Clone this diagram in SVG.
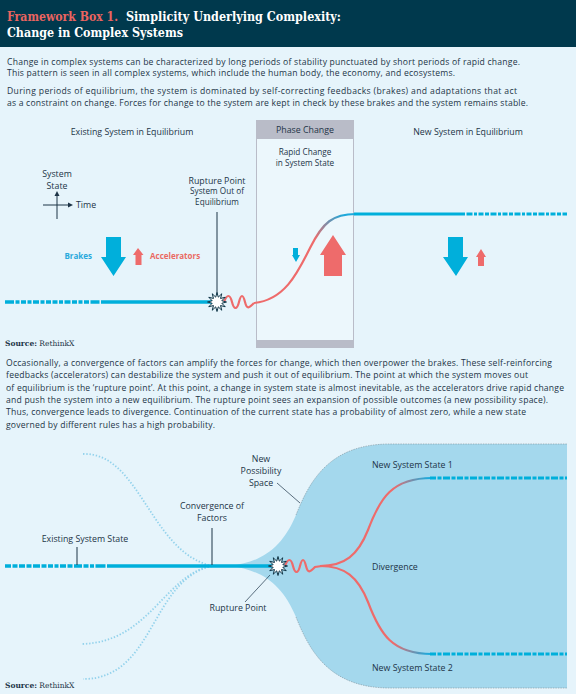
<svg xmlns="http://www.w3.org/2000/svg" width="576" height="694" viewBox="0 0 576 694">
<style>
.body{font-family:"Open Sans","Liberation Sans",sans-serif;font-size:8.6px;fill:#1d3447}
.lbl{font-family:"Open Sans","Liberation Sans",sans-serif;font-size:8.8px;fill:#1d3447}
.sm{font-family:"Open Sans","Liberation Sans",sans-serif;font-size:8.2px;fill:#1d3447}
.ttl{font-family:"DejaVu Serif","Liberation Serif",serif;font-weight:bold;font-size:13px;fill:#ffffff}
.src{font-family:"DejaVu Serif","Liberation Serif",serif;font-size:7.5px;fill:#1d3447}
.cy{stroke:#00afdb;stroke-width:3.5;fill:none}
.lead{stroke:#1d3447;stroke-width:1;fill:none}
.red{stroke:#ee6b6b;stroke-width:2.2;fill:none}
.dot{stroke:#93d2ec;stroke-width:1.8;fill:none;stroke-dasharray:1.4 1.8}
.star{fill:#ffffff;stroke:#0d3446;stroke-width:1}
.bl{fill:#00afdb}
.rd{fill:#ee6b6b}
</style>
<defs>
<polygon id="starShape" points="9.5,0 4.83,1.29 8.23,4.75 3.54,3.54 4.75,8.23 1.29,4.83 0,9.5 -1.29,4.83 -4.75,8.23 -3.54,3.54 -8.23,4.75 -4.83,1.29 -9.5,0 -4.83,-1.29 -8.23,-4.75 -3.54,-3.54 -4.75,-8.23 -1.29,-4.83 0,-9.5 1.29,-4.83 4.75,-8.23 3.54,-3.54 8.23,-4.75 4.83,-1.29"/>
<linearGradient id="g1" gradientUnits="userSpaceOnUse" x1="305" y1="258" x2="345" y2="216">
<stop offset="0" stop-color="#ee6b6b"/><stop offset="0.35" stop-color="#ee6b6b"/><stop offset="1" stop-color="#1ea9db"/>
</linearGradient>
<linearGradient id="g2" gradientUnits="userSpaceOnUse" x1="382" y1="500" x2="428" y2="478">
<stop offset="0" stop-color="#ee6b6b"/><stop offset="0.3" stop-color="#ee6b6b"/><stop offset="1" stop-color="#1ea9db"/>
</linearGradient>
<linearGradient id="g3" gradientUnits="userSpaceOnUse" x1="382" y1="632" x2="428" y2="654">
<stop offset="0" stop-color="#ee6b6b"/><stop offset="0.3" stop-color="#ee6b6b"/><stop offset="1" stop-color="#1ea9db"/>
</linearGradient>
</defs>
<rect x="0" y="0" width="576" height="694" fill="#e6f4fb"/>
<g id="header">
<rect x="0" y="0" width="576" height="47" fill="#00394d"/>
<text class="ttl" x="7" y="21" textLength="111" lengthAdjust="spacingAndGlyphs" style="fill:#ea6460">Framework Box 1.</text>
<text class="ttl" x="126" y="21" textLength="215" lengthAdjust="spacingAndGlyphs">Simplicity Underlying Complexity:</text>
<text class="ttl" x="7" y="37" textLength="176" lengthAdjust="spacingAndGlyphs">Change in Complex Systems</text>
</g>
<g id="intro">
<text class="body" x="7" y="65" textLength="513" lengthAdjust="spacing">Change in complex systems can be characterized by long periods of stability punctuated by short periods of rapid change.</text>
<text class="body" x="7" y="76" textLength="448" lengthAdjust="spacing">This pattern is seen in all complex systems, which include the human body, the economy, and ecosystems.</text>
<text class="body" x="7" y="94" textLength="510" lengthAdjust="spacing">During periods of equilibrium, the system is dominated by self-correcting feedbacks (brakes) and adaptations that act</text>
<text class="body" x="7" y="106" textLength="521" lengthAdjust="spacing">as a constraint on change. Forces for change to the system are kept in check by these brakes and the system remains stable.</text>
</g>
<g id="phase-box">
<rect x="256.5" y="120.5" width="97" height="227" fill="#ecf7fc" stroke="#b9bcc8" stroke-width="1"/>
<rect x="256.5" y="120.5" width="97" height="18.5" fill="#b9bcc8"/>
<rect x="256.5" y="340" width="97" height="7.5" fill="#b9bcc8"/>
<text class="lbl" x="305" y="133" text-anchor="middle">Phase Change</text>
<text class="sm" x="305" y="154.5" text-anchor="middle">Rapid Change</text>
<text class="sm" x="305" y="165.5" text-anchor="middle">in System State</text>
</g>
<g id="top-labels">
<text class="lbl" x="132" y="135" text-anchor="middle">Existing System in Equilibrium</text>
<text class="lbl" x="468" y="135" text-anchor="middle">New System in Equilibrium</text>
<text class="lbl" x="57" y="176.5" text-anchor="middle">System</text>
<text class="lbl" x="57" y="188.5" text-anchor="middle">State</text>
<text class="lbl" x="76" y="208">Time</text>
<text class="lbl" x="217" y="183.5" text-anchor="middle">Rupture Point</text>
<text class="sm" x="217" y="194" text-anchor="middle">System Out of</text>
<text class="sm" x="217" y="204.5" text-anchor="middle">Equilibrium</text>
<text class="lbl" x="92" y="259" text-anchor="end" style="fill:#29a9dc;font-weight:bold;font-size:8px">Brakes</text>
<text class="lbl" x="150" y="259" style="fill:#ea6a63;font-weight:bold;font-size:8px">Accelerators</text>
</g>
<g id="axes">
<line class="lead" x1="57" y1="195" x2="57" y2="219"/>
<polygon points="57,191 54.5,196 59.5,196" fill="#1d3447"/>
<line class="lead" x1="43" y1="205" x2="69" y2="205"/>
<polygon points="73,205 68,202.5 68,207.5" fill="#1d3447"/>
</g>
<g id="arrows-top">
<polygon class="bl" points="106,237 121,237 121,257 126,257 113.5,276 101,257 106,257"/>
<polygon class="rd" points="138,248 143.5,255 141.5,255 141.5,265 135.5,265 135.5,255 133,255"/>
<polygon class="bl" points="293,248 298,248 298,255 300,255 296,262 292,255 293,255"/>
<polygon class="rd" points="333,235 346,255 342,255 342,276 324,276 324,255 320,255"/>
<polygon class="bl" points="448,237 463,237 463,257 468,257 456,276 443,257 448,257"/>
<polygon class="rd" points="481,249 486,257 484,257 484,266 478,266 478,257 476,257"/>
</g>
<g id="connectors">
<path class="cy" d="M5 302 H104" style="stroke-dasharray:9 1.5 4 1.5 5 1.5 4 1.5 6 1.5 4 1.5 5 1.5 5 1.5 4 1.5 6 1.5 5 1.5 4 1.5 5 1.5"/>
<path class="cy" d="M104 302 H212"/>
<line class="lead" x1="217" y1="212" x2="217" y2="294"/>
<path class="red" d="M224 302 C227 294 230 294 232 302 S237 310 239 302 S243 294 245 302 S249 308 254 303"/>
<path d="M254 303 C285 300 298 272 310 248 C323 222 333 214 356 214" fill="none" stroke="url(#g1)" stroke-width="2.2"/>
<path class="cy" d="M354 214 H461" style="stroke-width:3"/>
<path class="cy" d="M461 214 H567" style="stroke-width:3;stroke-dasharray:4 1.5 6 1.5 3 1.5 5 1.5"/>
</g>
<g id="rupture-top"><use href="#starShape" x="217" y="302" class="star"/></g>
<g id="source1"><text class="src" x="5" y="346"><tspan font-weight="bold">Source:</tspan> RethinkX</text></g>
<g id="para2">
<text class="body" x="6" y="366" textLength="546" lengthAdjust="spacing">Occasionally, a convergence of factors can amplify the forces for change, which then overpower the brakes. These self-reinforcing</text>
<text class="body" x="6" y="378.3" textLength="522" lengthAdjust="spacing">feedbacks (accelerators) can destabilize the system and push it out of equilibrium. The point at which the system moves out</text>
<text class="body" x="6" y="390.6" textLength="558" lengthAdjust="spacing">of equilibrium is the ‘rupture point’. At this point, a change in system state is almost inevitable, as the accelerators drive rapid change</text>
<text class="body" x="6" y="402.9" textLength="542" lengthAdjust="spacing">and push the system into a new equilibrium. The rupture point sees an expansion of possible outcomes (a new possibility space).</text>
<text class="body" x="6" y="415.2" textLength="520" lengthAdjust="spacing">Thus, convergence leads to divergence. Continuation of the current state has a probability of almost zero, while a new state</text>
<text class="body" x="6" y="427.5" textLength="209" lengthAdjust="spacing">governed by different rules has a high probability.</text>
</g>
<g id="possibility-space">
<path d="M230 566 C262 562 282 548 296 515 C310 480 330 444 390 444 L567 444 L567 688 L390 688 C330 688 310 652 296 617 C282 584 262 570 230 566 Z" fill="#a4d8ed"/>
<path d="M296 515 C310 480 330 444 390 444 L567 444" fill="none" stroke="#7f929c" stroke-width="0.6" stroke-dasharray="1.5 1"/>
<path d="M296 617 C310 652 330 688 390 688 L567 688" fill="none" stroke="#7f929c" stroke-width="0.6" stroke-dasharray="1.5 1"/>
</g>
<g id="dotted-paths">
<path class="dot" d="M83 454 C140 452 150 552 212 566"/>
<path class="dot" d="M212 566 C165 574 150 642 82 644"/>
<path class="dot" d="M212 566 C150 580 155 679 83 679"/>
</g>
<g id="bottom-labels">
<text class="lbl" x="85" y="542" text-anchor="middle">Existing System State</text>
<text class="lbl" x="212" y="509" text-anchor="middle">Convergence of</text>
<text class="lbl" x="212" y="521" text-anchor="middle">Factors</text>
<text class="lbl" x="261" y="461.5" text-anchor="middle">New</text>
<text class="lbl" x="261" y="473.5" text-anchor="middle">Possibility</text>
<text class="lbl" x="261" y="485.5" text-anchor="middle">Space</text>
<text class="lbl" x="372" y="468">New System State 1</text>
<text class="lbl" x="372" y="570">Divergence</text>
<text class="lbl" x="372" y="671">New System State 2</text>
<text class="lbl" x="238" y="611" text-anchor="middle">Rupture Point</text>
</g>
<g id="connectors-bottom">
<path class="cy" d="M5 566 H113" style="stroke-dasharray:6 1.5 5 1.5 6 1.5 5 1.5 7 1.5 5 1.5 5 1.5 4 1.5 6 1.5 5 1.5 8 1.5 5 1.5 4 1.5 10 1.5"/>
<path class="cy" d="M113 566 H272"/>
<line class="lead" x1="77" y1="547" x2="77" y2="565"/>
<line class="lead" x1="212" y1="528" x2="212" y2="565"/>
<line class="lead" x1="277" y1="483" x2="300" y2="503" style="stroke-width:0.7"/>
<line class="lead" x1="245" y1="602" x2="270" y2="575" style="stroke-width:0.7"/>
<path class="red" d="M285 566 C288 558 291 558 293 566 S298 574 300 566 S304 558 306 566 S310 572 315 567 L322 566"/>
<path d="M320 566 C345 566 358 555 368 530 C380 498 392 478 432 478" fill="none" stroke="url(#g2)" stroke-width="2.2"/>
<path d="M320 566 C345 566 358 577 368 602 C380 634 392 654 432 654" fill="none" stroke="url(#g3)" stroke-width="2.2"/>
<path class="cy" d="M430 478 H567" style="stroke-width:3;stroke-dasharray:6 1.5 4 1.5 7 1.5 4 1.5"/>
<path class="cy" d="M430 654 H567" style="stroke-width:3;stroke-dasharray:6 1.5 4 1.5 7 1.5 4 1.5"/>
</g>
<g id="rupture-bottom"><use href="#starShape" x="278" y="566" class="star"/></g>
<g id="source2"><text class="src" x="5" y="688"><tspan font-weight="bold">Source:</tspan> RethinkX</text></g>
</svg>
